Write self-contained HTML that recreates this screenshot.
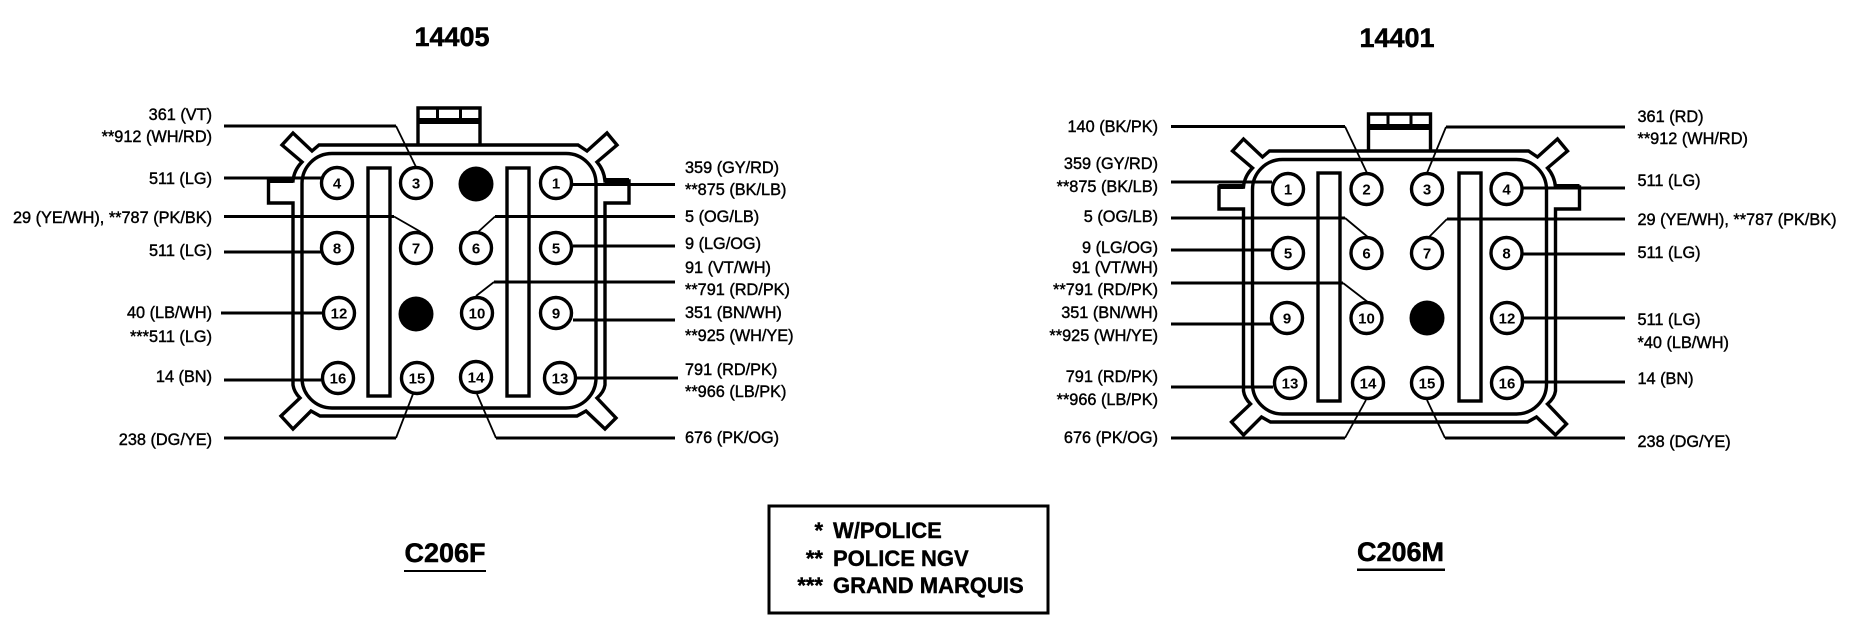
<!DOCTYPE html>
<html><head><meta charset="utf-8"><title>C206 connectors</title>
<style>
html,body{margin:0;padding:0;background:#fff}
svg{display:block}
text{font-family:"Liberation Sans",sans-serif;fill:#000}
.l{font-size:16.3px;stroke:#000;stroke-width:.42;transform:translateY(-1px)}
.r{text-anchor:end}
.n{font-size:15px;font-weight:bold;text-anchor:middle}
.t{font-size:27px;font-weight:bold;text-anchor:middle;stroke:#000;stroke-width:.5}
.k{font-size:22px;font-weight:bold;stroke:#000;stroke-width:.4}
.w{fill:none;stroke:#000;stroke-width:3;stroke-linejoin:miter}
.d{fill:none;stroke:#000;stroke-width:1.8}
.s{fill:none;stroke:#000;stroke-width:3.4;stroke-linejoin:miter}
.c{fill:#fff;stroke:#000;stroke-width:3.4}
</style></head><body>
<svg width="1860" height="640" viewBox="0 0 1860 640" xmlns="http://www.w3.org/2000/svg">
<rect width="1860" height="640" fill="#fff"/>
<defs>
<g id="shell">
<path class="s" d="M319 145H578L587 151L607 133L617 145L597 162Q604 170 605 181H629V203H605V385Q604 392 597 398L616 418L605 429L586 411L577 416H320L311 411L293 429L281 416L300 398Q294 392 293 385V203H268.500V181H293Q294 170 302 162L282 145L293 133L312 151Z"/>
<rect class="s" x="302" y="153.500" width="294" height="254.500" rx="30" ry="30"/>
<path class="s" d="M418 144V108H480V144"/>
<path d="M418 118H480V124H418Z" fill="#000"/>
<path d="M436 108H439V118H436ZM459 108H462V118H459Z" fill="#000"/>
<path d="M268 178H293V183H268ZM605 178H629V183H605Z" fill="#000"/>
</g>
</defs>

<!-- LEFT CONNECTOR -->
<text class="t" x="452" y="46">14405</text>
<use href="#shell"/>
<rect class="s" x="368" y="168" width="22" height="228"/>
<rect class="s" x="507" y="168" width="22" height="228"/>

<path class="w" d="M224 126H396"/><path class="d" d="M396 126L416 167"/>
<path class="w" d="M224 178H321"/>
<path class="w" d="M224 216.500H394"/><path class="d" d="M394 216.500L421 232"/>
<path class="w" d="M224 252H321"/>
<path class="w" d="M221 313H322"/>
<path class="w" d="M224 380H321"/>
<path class="w" d="M224 438H396"/><path class="d" d="M396 438L413 394"/>
<path class="w" d="M572 184.500H675"/>
<path class="w" d="M675 216.500H495"/><path class="d" d="M495 216.500L478 232"/>
<path class="w" d="M573 246H675"/>
<path class="w" d="M675 282H494"/><path class="d" d="M494 282L476 296"/>
<path class="w" d="M573 320H675"/>
<path class="w" d="M577 378H678"/>
<path class="w" d="M675 438H496"/><path class="d" d="M496 438L477 394"/>

<circle class="c" cx="337" cy="183" r="15.500"/><text class="n" x="337" y="188.500">4</text>
<circle class="c" cx="416" cy="183" r="15.500"/><text class="n" x="416" y="188.500">3</text>
<circle cx="476" cy="184" r="17.500"/>
<circle class="c" cx="556" cy="183" r="15.500"/><text class="n" x="556" y="188.500">1</text>
<circle class="c" cx="337" cy="248" r="15.500"/><text class="n" x="337" y="253.500">8</text>
<circle class="c" cx="416" cy="248" r="15.500"/><text class="n" x="416" y="253.500">7</text>
<circle class="c" cx="476" cy="248" r="15.500"/><text class="n" x="476" y="253.500">6</text>
<circle class="c" cx="556" cy="248" r="15.500"/><text class="n" x="556" y="253.500">5</text>
<circle class="c" cx="339" cy="313" r="15.500"/><text class="n" x="339" y="318.500">12</text>
<circle cx="416" cy="314" r="17.500"/>
<circle class="c" cx="477" cy="313" r="15.500"/><text class="n" x="477" y="318.500">10</text>
<circle class="c" cx="556" cy="313" r="15.500"/><text class="n" x="556" y="318.500">9</text>
<circle class="c" cx="338" cy="378" r="15.500"/><text class="n" x="338" y="383.500">16</text>
<circle class="c" cx="417" cy="378" r="15.500"/><text class="n" x="417" y="383.500">15</text>
<circle class="c" cx="476" cy="377" r="15.500"/><text class="n" x="476" y="382.500">14</text>
<circle class="c" cx="560" cy="378" r="15.500"/><text class="n" x="560" y="383.500">13</text>

<text class="l r" x="212" y="121">361 (VT)</text>
<text class="l r" x="212" y="143">**912 (WH/RD)</text>
<text class="l r" x="212" y="185">511 (LG)</text>
<text class="l r" x="212" y="224">29 (YE/WH), **787 (PK/BK)</text>
<text class="l r" x="212" y="257">511 (LG)</text>
<text class="l r" x="212" y="319">40 (LB/WH)</text>
<text class="l r" x="212" y="343">***511 (LG)</text>
<text class="l r" x="212" y="383">14 (BN)</text>
<text class="l r" x="212" y="446">238 (DG/YE)</text>
<text class="l" x="685" y="174">359 (GY/RD)</text>
<text class="l" x="685" y="196">**875 (BK/LB)</text>
<text class="l" x="685" y="223">5 (OG/LB)</text>
<text class="l" x="685" y="250">9 (LG/OG)</text>
<text class="l" x="685" y="274">91 (VT/WH)</text>
<text class="l" x="685" y="296">**791 (RD/PK)</text>
<text class="l" x="685" y="319">351 (BN/WH)</text>
<text class="l" x="685" y="342">**925 (WH/YE)</text>
<text class="l" x="685" y="376">791 (RD/PK)</text>
<text class="l" x="685" y="398">**966 (LB/PK)</text>
<text class="l" x="685" y="444">676 (PK/OG)</text>

<text class="t" x="445" y="562">C206F</text>
<rect x="404" y="570" width="82" height="2"/>

<!-- RIGHT CONNECTOR -->
<text class="t" x="1397" y="47">14401</text>
<use href="#shell" transform="translate(950.500 6)"/>
<rect class="s" x="1318" y="173" width="22" height="228"/>
<rect class="s" x="1459" y="173" width="22" height="228"/>

<path class="w" d="M1171 126.500H1345"/><path class="d" d="M1345 126.500L1367 173"/>
<path class="w" d="M1171 182H1272"/>
<path class="w" d="M1171 218H1345"/><path class="d" d="M1345 218L1369 238"/>
<path class="w" d="M1171 250H1272"/>
<path class="w" d="M1171 283H1343"/><path class="d" d="M1343 283L1369 303"/>
<path class="w" d="M1171 324H1272"/>
<path class="w" d="M1171 387H1273"/>
<path class="w" d="M1171 438H1345"/><path class="d" d="M1345 438L1366 400"/>
<path class="w" d="M1625 127H1446"/><path class="d" d="M1446 127L1427 173"/>
<path class="w" d="M1523 188H1625"/>
<path class="w" d="M1625 219H1447"/><path class="d" d="M1447 219L1429 237"/>
<path class="w" d="M1523 254H1625"/>
<path class="w" d="M1523 318H1625"/>
<path class="w" d="M1523 382H1625"/>
<path class="w" d="M1625 438H1445"/><path class="d" d="M1445 438L1427 400"/>

<circle class="c" cx="1288" cy="189" r="15.500"/><text class="n" x="1288" y="194.500">1</text>
<circle class="c" cx="1366.500" cy="189" r="15.500"/><text class="n" x="1366.500" y="194.500">2</text>
<circle class="c" cx="1427" cy="189" r="15.500"/><text class="n" x="1427" y="194.500">3</text>
<circle class="c" cx="1506.500" cy="189" r="15.500"/><text class="n" x="1506.500" y="194.500">4</text>
<circle class="c" cx="1288" cy="253" r="15.500"/><text class="n" x="1288" y="258.500">5</text>
<circle class="c" cx="1366.500" cy="253" r="15.500"/><text class="n" x="1366.500" y="258.500">6</text>
<circle class="c" cx="1427" cy="253" r="15.500"/><text class="n" x="1427" y="258.500">7</text>
<circle class="c" cx="1506.500" cy="253" r="15.500"/><text class="n" x="1506.500" y="258.500">8</text>
<circle class="c" cx="1287" cy="318" r="15.500"/><text class="n" x="1287" y="323.500">9</text>
<circle class="c" cx="1366.500" cy="318" r="15.500"/><text class="n" x="1366.500" y="323.500">10</text>
<circle cx="1427" cy="318" r="17.500"/>
<circle class="c" cx="1507" cy="318" r="15.500"/><text class="n" x="1507" y="323.500">12</text>
<circle class="c" cx="1290" cy="383" r="15.500"/><text class="n" x="1290" y="388.500">13</text>
<circle class="c" cx="1368" cy="383" r="15.500"/><text class="n" x="1368" y="388.500">14</text>
<circle class="c" cx="1427" cy="383" r="15.500"/><text class="n" x="1427" y="388.500">15</text>
<circle class="c" cx="1507" cy="383" r="15.500"/><text class="n" x="1507" y="388.500">16</text>

<text class="l r" x="1158" y="133">140 (BK/PK)</text>
<text class="l r" x="1158" y="170">359 (GY/RD)</text>
<text class="l r" x="1158" y="193">**875 (BK/LB)</text>
<text class="l r" x="1158" y="223">5 (OG/LB)</text>
<text class="l r" x="1158" y="254">9 (LG/OG)</text>
<text class="l r" x="1158" y="274">91 (VT/WH)</text>
<text class="l r" x="1158" y="296">**791 (RD/PK)</text>
<text class="l r" x="1158" y="319">351 (BN/WH)</text>
<text class="l r" x="1158" y="342">**925 (WH/YE)</text>
<text class="l r" x="1158" y="383">791 (RD/PK)</text>
<text class="l r" x="1158" y="406">**966 (LB/PK)</text>
<text class="l r" x="1158" y="444">676 (PK/OG)</text>
<text class="l" x="1637.500" y="123">361 (RD)</text>
<text class="l" x="1637.500" y="145">**912 (WH/RD)</text>
<text class="l" x="1637.500" y="187">511 (LG)</text>
<text class="l" x="1637.500" y="226">29 (YE/WH), **787 (PK/BK)</text>
<text class="l" x="1637.500" y="259">511 (LG)</text>
<text class="l" x="1637.500" y="326">511 (LG)</text>
<text class="l" x="1637.500" y="349">*40 (LB/WH)</text>
<text class="l" x="1637.500" y="385">14 (BN)</text>
<text class="l" x="1637.500" y="448">238 (DG/YE)</text>

<text class="t" x="1400.500" y="561">C206M</text>
<rect x="1357" y="568.500" width="88" height="2.500"/>

<!-- LEGEND -->
<rect x="769" y="506" width="279" height="107" fill="none" stroke="#000" stroke-width="3"/>
<text class="k" x="823" y="538" text-anchor="end">*</text><text class="k" x="833" y="538">W/POLICE</text>
<text class="k" x="823" y="566" text-anchor="end">**</text><text class="k" x="833" y="566">POLICE NGV</text>
<text class="k" x="823" y="593" text-anchor="end">***</text><text class="k" x="833" y="593">GRAND MARQUIS</text>
</svg>
</body></html>
